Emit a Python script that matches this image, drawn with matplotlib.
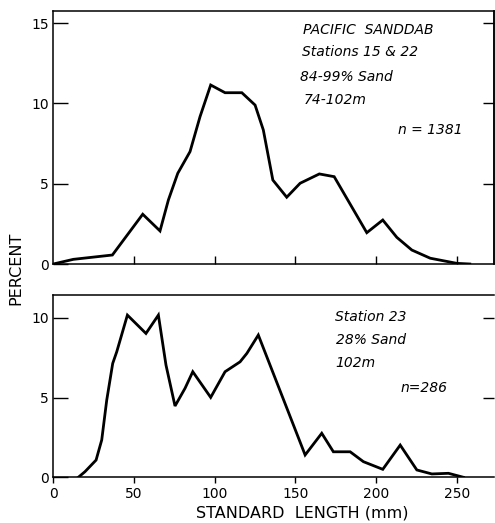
import matplotlib
matplotlib.use("Agg")
import matplotlib.pyplot as plt

# Top panel: Stations 15 & 22
top_len = [0, 12.4, 36.6, 55.4, 66.1, 71.3, 77.1, 84.7, 90.9, 97.5, 106.4, 116.8,
           125.0, 130.1, 136.0, 144.6, 152.9, 164.8, 174.0, 194.2, 204.1, 212.8,
           222.1, 233.5, 250.0, 258.0]
top_pct = [0, 0.29, 0.56, 3.10, 2.06, 3.99, 5.65, 7.0, 9.18, 11.15, 10.67, 10.67,
           9.9, 8.35, 5.23, 4.16, 5.03, 5.61, 5.44, 1.95, 2.74, 1.66,
           0.87, 0.36, 0.04, 0.0]

# Bottom panel: Station 23
bot_len = [15.5, 19.6, 26.5, 30.0, 33.1, 36.8, 39.3, 45.9, 57.4, 65.1, 69.8, 75.4,
           81.6, 86.4, 97.5, 106.4, 115.7, 119.9, 127.0, 156.0, 166.3, 173.5,
           183.9, 192.1, 204.1, 214.9, 225.2, 234.5, 244.8, 254.1]
bot_pct = [0, 0.35, 1.08, 2.34, 4.84, 7.14, 7.87, 10.17, 9.02, 10.17, 7.04, 4.47,
           5.58, 6.62, 5.01, 6.62, 7.24, 7.77, 8.92, 1.40, 2.76, 1.60,
           1.60, 0.98, 0.50, 2.02, 0.46, 0.21, 0.25, 0.0]

x_ticks = [0, 50, 100, 150, 200, 250]
top_yticks = [0, 5, 10, 15]
bot_yticks = [0, 5, 10]

top_text = ["PACIFIC  SANDDAB", "Stations 15 & 22", "84-99% Sand", "74-102m"]
top_n = "n = 1381"
bot_text = ["Station 23", "28% Sand", "102m"]
bot_n = "n=286"

W, H = 495, 523
fig = plt.figure(figsize=(W / 100, H / 100), dpi=100)
fig.patch.set_facecolor("white")

def ax_rect(l, r, t, b):
    return [l / W, 1 - b / H, (r - l) / W, (b - t) / H]

ax1 = fig.add_axes(ax_rect(53.3, 494, 11, 264))
ax2 = fig.add_axes(ax_rect(53.3, 494, 295, 477.3))

lw = 2.0
ax1.plot(top_len, top_pct, color="black", lw=lw, solid_joinstyle="miter")
ax2.plot(bot_len, bot_pct, color="black", lw=lw, solid_joinstyle="miter")

ax1.set_xlim(0, 273)
ax1.set_ylim(0, 15.76)
ax2.set_xlim(0, 273)
ax2.set_ylim(0, 11.43)

for ax in (ax1, ax2):
    for s in ax.spines.values():
        s.set_linewidth(1.1)

# Top panel ticks
ax1.set_yticks(top_yticks)
ax1.set_yticklabels([str(v) for v in top_yticks], fontsize=10)
ax1.tick_params(axis="y", direction="in", length=11, width=1.0, pad=3)
ax1.set_xticks(x_ticks[1:])
ax1.tick_params(axis="x", direction="in", length=6, width=1.0, labelbottom=False)
sec1 = ax1.secondary_yaxis("right")
sec1.set_yticks(top_yticks[1:])
sec1.tick_params(direction="in", length=8, width=1.0, labelright=False)
sec1.spines["right"].set_linewidth(1.1)

# Bottom panel ticks
ax2.set_yticks(bot_yticks)
ax2.set_yticklabels([str(v) for v in bot_yticks], fontsize=10)
ax2.tick_params(axis="y", direction="in", length=11, width=1.0, pad=3)
ax2.set_xticks(x_ticks)
ax2.set_xticklabels([str(v) for v in x_ticks], fontsize=10)
ax2.tick_params(axis="x", direction="out", length=4, width=1.0, pad=3)
ax2.spines["right"].set_visible(False)
sec2 = ax2.secondary_yaxis("right")
sec2.set_yticks(bot_yticks[1:])
sec2.tick_params(direction="in", length=8, width=1.0, labelright=False)
sec2.spines["right"].set_visible(False)

# Annotations
fs = 10
top_pos = [(154.7, 14.6), (154.0, 13.2), (153.0, 11.65), (155.0, 10.2)]
for txt, (x, y) in zip(top_text, top_pos):
    ax1.text(x, y, txt, fontsize=fs, fontstyle="italic", va="center", ha="left")
ax1.text(213.6, 8.35, top_n, fontsize=fs, fontstyle="italic", va="center", ha="left")

bot_pos = [(174.6, 10.06), (175.2, 8.6), (175.0, 7.16)]
for txt, (x, y) in zip(bot_text, bot_pos):
    ax2.text(x, y, txt, fontsize=fs, fontstyle="italic", va="center", ha="left")
ax2.text(214.9, 5.6, bot_n, fontsize=fs, fontstyle="italic", va="center", ha="left")

fig.text(16 / W, 1 - 268 / H, "PERCENT", rotation=90, fontsize=11.5,
         ha="center", va="center")
fig.text(302 / W, 1 - 513 / H, "STANDARD  LENGTH (mm)", fontsize=11.5,
         ha="center", va="center")

fig.savefig("out.png", dpi=100, facecolor="white")
